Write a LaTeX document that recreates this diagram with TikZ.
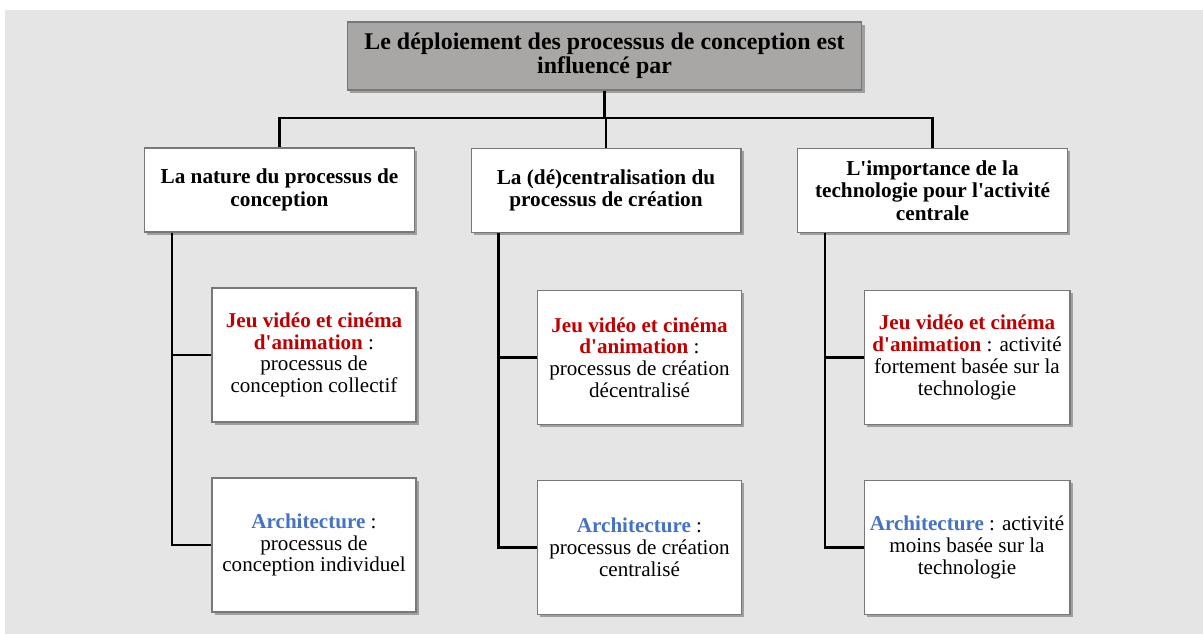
\documentclass[tikz,border=0pt]{standalone}
\usepackage{fontspec}
\setmainfont{Liberation Serif}
\usetikzlibrary{shadows}
\definecolor{pagegray}{RGB}{229,229,229}
\definecolor{headgray}{RGB}{169,166,166}
\definecolor{framegray}{RGB}{120,120,120}
\definecolor{jeured}{RGB}{192,0,0}
\definecolor{archiblue}{RGB}{68,114,196}

\begin{document}
\begin{tikzpicture}[x=0.02cm, y=-0.02cm]
    % Style definitions
    \tikzset{
      boxbase/.style={draw=framegray, line width=0.6pt, align=center,
        drop shadow={shadow xshift=1.5pt, shadow yshift=-1.5pt, fill=black, opacity=0.3}},
      headbox/.style={boxbase, fill=headgray, minimum width=10.3cm, minimum height=1.36cm,
        font=\fontsize{13.6}{13.5}\selectfont\bfseries},
      catbox/.style={boxbase, fill=white, minimum width=5.4cm, minimum height=1.68cm,
        font=\fontsize{12.1}{12.7}\selectfont\bfseries},
      casebox/.style={boxbase, fill=white, minimum width=4.08cm, minimum height=2.68cm,
        font=\fontsize{12}{12.4}\selectfont},
      link/.style={line width=1.2pt, black},
    }
    \newcommand{\jeu}[1]{\textcolor{jeured}{\bfseries #1}}
    \newcommand{\archi}[1]{\textcolor{archiblue}{\bfseries #1}}
    \newcommand{\apos}{\textquotesingle}

    \useasboundingbox (0,0) rectangle (1203,634);
    \fill[pagegray] (5,10) rectangle (1203,634);

    % Head and the three factors
    \node[headbox] (head) at (604.5,56) {Le déploiement des processus de conception est\\influencé par};
    \node[catbox] (nature) at (279.5,190) {La nature du processus de\\conception};
    \node[catbox] (decentr) at (606,190.5) {La (dé)centralisation du\\processus de création};
    \node[catbox] (techno) at (932.5,190.5) {L\apos importance de la\\technologie pour l\apos activité\\centrale};

    % Cases: jeu vidéo / architecture
    \node[casebox] (natureJeu) at (314,355) {\jeu{Jeu vidéo et cinéma}\\\jeu{d\apos animation} :\\processus de\\conception collectif};
    \node[casebox] (natureArchi) at (314,545) {\archi{Architecture} :\\processus de\\conception individuel};
    \node[casebox] (decentrJeu) at (639.5,357.5) {\jeu{Jeu vidéo et cinéma}\\\jeu{d\apos animation} :\\processus de création\\décentralisé};
    \node[casebox] (decentrArchi) at (639.5,547.5) {\archi{Architecture} :\\processus de création\\centralisé};
    \node[casebox, minimum width=4.12cm] (technoJeu) at (967,357.5) {\jeu{Jeu vidéo et cinéma}\\\jeu{d\apos animation} : activité\\fortement basée sur la\\technologie};
    \node[casebox, minimum width=4.12cm] (technoArchi) at (967,547.5) {\archi{Architecture} : activité\\moins basée sur la\\technologie};

    % Connectors
    \coordinate (bus) at (604.5,118);
    \draw[link] (head.south) -- (bus);
    \draw[link] (nature.north) |- (bus) -| (techno.north);
    \draw[link] (bus) -- (bus -| decentr.north) -- (decentr.north);
    \foreach \cat in {nature,decentr,techno}{
      \draw[link] ([xshift=0.56cm]\cat.south west) |- (\cat Jeu.west);
      \draw[link] ([xshift=0.56cm]\cat.south west) |- (\cat Archi.west);
    }
\end{tikzpicture}
\end{document}
